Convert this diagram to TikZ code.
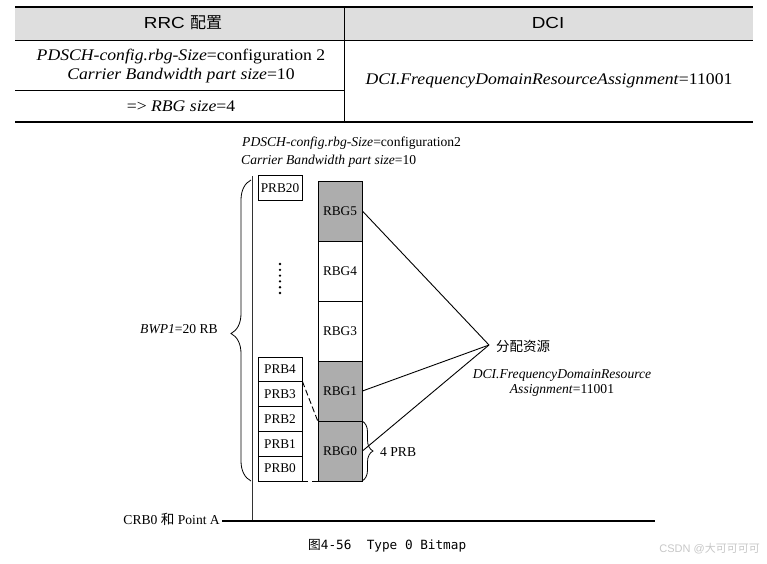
\documentclass[tikz,border=0pt]{standalone}
\usepackage{fontspec}
\setmainfont{Liberation Serif}
\newfontfamily\hdrfont[FakeStretch=1.18]{Liberation Sans}
\newfontfamily\bodyfont[FakeStretch=1.09]{Liberation Serif}
\newfontfamily\wmfont{Liberation Sans}
\newfontfamily\cjk{Noto Sans CJK SC}
\newfontfamily\monof{DejaVu Sans Mono}
\usetikzlibrary{decorations.pathreplacing}
\begin{document}
\begin{tikzpicture}[x=1pt,y=-1pt,
  tline/.style={line width=1.1pt},
  prbbox/.style={draw,rectangle,line width=0.8pt,minimum width=44pt,minimum height=24.8pt,inner sep=0pt,font=\fontsize{13.3}{15}\selectfont},
  rbgbox/.style={draw,rectangle,line width=0.8pt,minimum width=44pt,minimum height=60pt,inner sep=0pt,font=\fontsize{13.3}{15}\selectfont},
  selbox/.style={rbgbox,fill=black!32},
  lbl/.style={inner sep=0pt,font=\fontsize{13.6}{15}\selectfont},
  tbody/.style={inner sep=0pt,font=\bodyfont\fontsize{16.2}{18}\selectfont},
  thead/.style={inner sep=0pt,font=\hdrfont\fontsize{16}{18}\selectfont},
  conn/.style={line width=0.9pt}
]
\useasboundingbox (0,0) rectangle (767,563);
% ---------- table ----------
\fill[black!13] (15,7) rectangle (753,40);
\draw[tline] (15,7) -- (753,7);
\draw[line width=0.7pt] (15,40) -- (753,40);
\draw[line width=0.7pt] (15,90) -- (344,90);
\draw[tline] (15,122) -- (753,122);
\draw[line width=0.7pt] (344,7) -- (344,122);
\node[thead] (h1) at (183,23) {RRC {\cjk 配置}};
\node[thead] (h2) at (548,23) {DCI};
\node[tbody] (b1) at (181,57) {\textit{PDSCH-config.rbg-Size}=configuration 2};
\node[tbody] (b2) at (181,76) {\textit{Carrier Bandwidth part size}=10};
\node[tbody] (b3) at (181,106) {=> \textit{RBG size}=4};
\node[tbody] (b4) at (549,81) {\textit{DCI.FrequencyDomainResourceAssignment}=11001};
% ---------- diagram ----------
\node[lbl,anchor=west] (t1) at (242,143) {\textit{PDSCH-config.rbg-Size}=configuration2};
\node[lbl,anchor=west] (t2) at (241,161) {\textit{Carrier Bandwidth part size}=10};

\coordinate (vtop) at (252,176);
\coordinate (vbot) at (252,522);
\draw[line width=1pt,black!80] (vtop) -- (vbot);
\coordinate (hl) at (222,521);
\coordinate (hr) at (655,521);
\draw[line width=1.1pt] (hl) -- (hr);
\node[lbl,anchor=east] (crb) at (220,519) {CRB0 {\cjk 和} Point A};

\node[prbbox] (prb20) at (280,188) {PRB20};
\node[prbbox] (prb4) at (280,369.4) {PRB4};
\node[prbbox] (prb3) at (280,394.2) {PRB3};
\node[prbbox] (prb2) at (280,419) {PRB2};
\node[prbbox] (prb1) at (280,443.8) {PRB1};
\node[prbbox] (prb0) at (280,468.6) {PRB0};
\foreach \i in {0,...,5} \fill (280,264+\i*5.8) circle (1.3pt);

\node[selbox] (rbg5) at (340,211) {RBG5};
\node[rbgbox] (rbg4) at (340,271) {RBG4};
\node[rbgbox] (rbg3) at (340,331) {RBG3};
\node[selbox] (rbg1) at (340,391) {RBG1};
\node[selbox] (rbg0) at (340,451) {RBG0};

\draw[line width=0.9pt,dash pattern=on 6pt off 3pt] (prb3.north east) -- (rbg0.north west);
\draw[line width=0.9pt,dash pattern=on 6pt off 4pt] (prb0.south east) -- (rbg0.south west);

% braces
\draw[line width=0.8pt,decorate,decoration={brace,amplitude=20pt,aspect=0.49}] (251,481) -- (251,180);
\node[lbl,anchor=east] (bwp) at (218,329) {\textit{BWP1}=20 RB};
\draw[line width=0.8pt,decorate,decoration={brace,amplitude=11pt}] (362,421) -- (362,481);
\node[lbl,anchor=west] (fourprb) at (380,452) {4 PRB};

% allocation lines
\coordinate (hub) at (489,345);
\draw[conn] (rbg5.east) -- (hub);
\draw[conn] (rbg1.east) -- (hub);
\draw[conn] (rbg0.east) -- (hub);
\node[lbl,anchor=west,font=\cjk\fontsize{13.5}{15}\selectfont] (alloc) at (496,346) {分配资源};
\node[lbl,align=center,font=\fontsize{13.6}{15.5}\selectfont] (dci) at (562,383) {\textit{DCI.FrequencyDomainResource}\\\textit{Assignment}=11001};

% caption
\node[inner sep=0pt,anchor=west,font=\monof\fontsize{12.7}{14}\selectfont] (cap) at (308,546) {{\cjk 图}4-56\ \ Type 0 Bitmap};
\node[inner sep=0pt,anchor=east,text=black!22,font=\wmfont\fontsize{11}{13}\selectfont] (wm) at (760,549) {CSDN @{\cjk 大可可可可}};
\end{tikzpicture}
\end{document}
